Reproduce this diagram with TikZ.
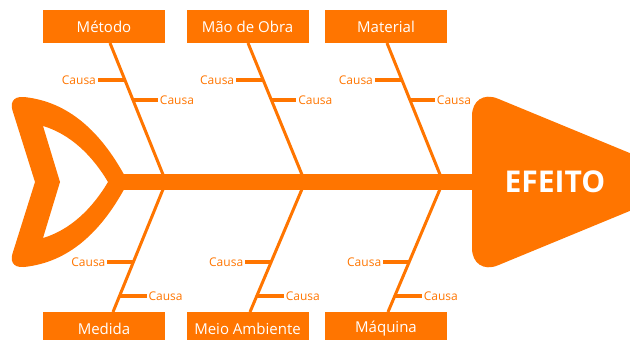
\documentclass[tikz,border=0pt]{standalone}
\usepackage{fontspec}
\setmainfont{Open Sans}
\usepackage{xcolor}
\usepackage{tikz}
\usetikzlibrary{calc}
\definecolor{peixe}{RGB}{255,117,0}

\begin{document}
\begin{tikzpicture}[x=1pt, y=-1pt, inner sep=0pt,
		caixa/.style={fill=peixe, minimum width=122pt, minimum height=33pt, text=white, font=\fontsize{15}{15}\selectfont},
		causa/.style={text=peixe, outer sep=2pt, font=\fontsize{12}{12}\selectfont},
		osso/.style={draw=peixe, line width=3pt},
		ramo/.style={draw=peixe, line width=3.5pt},
		espinha/.style={draw=peixe, line width=16pt}]
			\useasboundingbox (0,0) rectangle (630,340);
			\clip (0,0) rectangle (630,340);
			
			\fill[peixe, even odd rule] (128,182) .. controls (98,124) and (62,101) .. (24,97) .. controls (12,96) and (10,104) .. (13,112) -- (35,182) -- (13,252) .. controls (10,260) and (12,268) .. (24,267) .. controls (62,263) and (98,240) .. (128,182) -- cycle
				(108,182) .. controls (92,155) and (70,134) .. (43,126) -- (60,182) -- (43,238) .. controls (70,230) and (92,209) .. (108,182) -- cycle;
			\fill[peixe, rounded corners=28pt] (472,182) -- (472,88) -- (700,182) -- (472,276) -- cycle;
			\node[text=white, font=\fontsize{30}{30}\selectfont\bfseries](efeito) at (555,182) {EFEITO};
			
			\coordinate (cauda) at (122,182);
			\coordinate (cabeca) at (480,182);
			\draw[espinha](cauda) -- (cabeca);
			
			\node[caixa](metodo) at (104,26.5) {Método};
			\node[caixa](maodeobra) at (247.5,26.5) {Mão de Obra};
			\node[caixa](material) at (386,26.5) {Material};
			\node[caixa](medida) at (104,328.5) {Medida};
			\node[caixa](meioambiente) at (247.5,328.5) {Meio Ambiente};
			\node[caixa](maquina) at (386,328.5) {Máquina};
			
			\coordinate (j1) at (166,182);
			\coordinate (j2) at (305,182);
			\coordinate (j3) at (443,182);
			\coordinate (t1) at (110,43);
			\coordinate (t2) at (248,43);
			\coordinate (t3) at (387,43);
			\coordinate (b1) at (113,312);
			\coordinate (b2) at (250,312);
			\coordinate (b3) at (388,312);
			
			\draw[osso](t1) -- (j1);
			\draw[osso](t2) -- (j2);
			\draw[osso](t3) -- (j3);
			\draw[osso](j1) -- (b1);
			\draw[osso](j2) -- (b2);
			\draw[osso](j3) -- (b3);
			
			\path (t1) -- (j1) coordinate[pos=0.266](r1a) coordinate[pos=0.41](r1b);
			\path (t2) -- (j2) coordinate[pos=0.266](r2a) coordinate[pos=0.41](r2b);
			\path (t3) -- (j3) coordinate[pos=0.266](r3a) coordinate[pos=0.41](r3b);
			\path (j1) -- (b1) coordinate[pos=0.615](r4a) coordinate[pos=0.877](r4b);
			\path (j2) -- (b2) coordinate[pos=0.615](r5a) coordinate[pos=0.877](r5b);
			\path (j3) -- (b3) coordinate[pos=0.615](r6a) coordinate[pos=0.877](r6b);
			
			\node[causa, anchor=east](c1a) at ($(r1a)+(-27,0)$) {Causa};
			\node[causa, anchor=west](c1b) at ($(r1b)+(25,0)$) {Causa};
			\node[causa, anchor=east](c2a) at ($(r2a)+(-27,0)$) {Causa};
			\node[causa, anchor=west](c2b) at ($(r2b)+(25,0)$) {Causa};
			\node[causa, anchor=east](c3a) at ($(r3a)+(-27,0)$) {Causa};
			\node[causa, anchor=west](c3b) at ($(r3b)+(25,0)$) {Causa};
			\node[causa, anchor=east](c4a) at ($(r4a)+(-26,0)$) {Causa};
			\node[causa, anchor=west](c4b) at ($(r4b)+(27,0)$) {Causa};
			\node[causa, anchor=east](c5a) at ($(r5a)+(-26,0)$) {Causa};
			\node[causa, anchor=west](c5b) at ($(r5b)+(27,0)$) {Causa};
			\node[causa, anchor=east](c6a) at ($(r6a)+(-26,0)$) {Causa};
			\node[causa, anchor=west](c6b) at ($(r6b)+(27,0)$) {Causa};
			
			\draw[ramo](r1a) -- (c1a.east);
			\draw[ramo](r1b) -- (c1b.west);
			\draw[ramo](r2a) -- (c2a.east);
			\draw[ramo](r2b) -- (c2b.west);
			\draw[ramo](r3a) -- (c3a.east);
			\draw[ramo](r3b) -- (c3b.west);
			\draw[ramo](r4a) -- (c4a.east);
			\draw[ramo](r4b) -- (c4b.west);
			\draw[ramo](r5a) -- (c5a.east);
			\draw[ramo](r5b) -- (c5b.west);
			\draw[ramo](r6a) -- (c6a.east);
			\draw[ramo](r6b) -- (c6b.west);
		\end{tikzpicture}
\end{document}
